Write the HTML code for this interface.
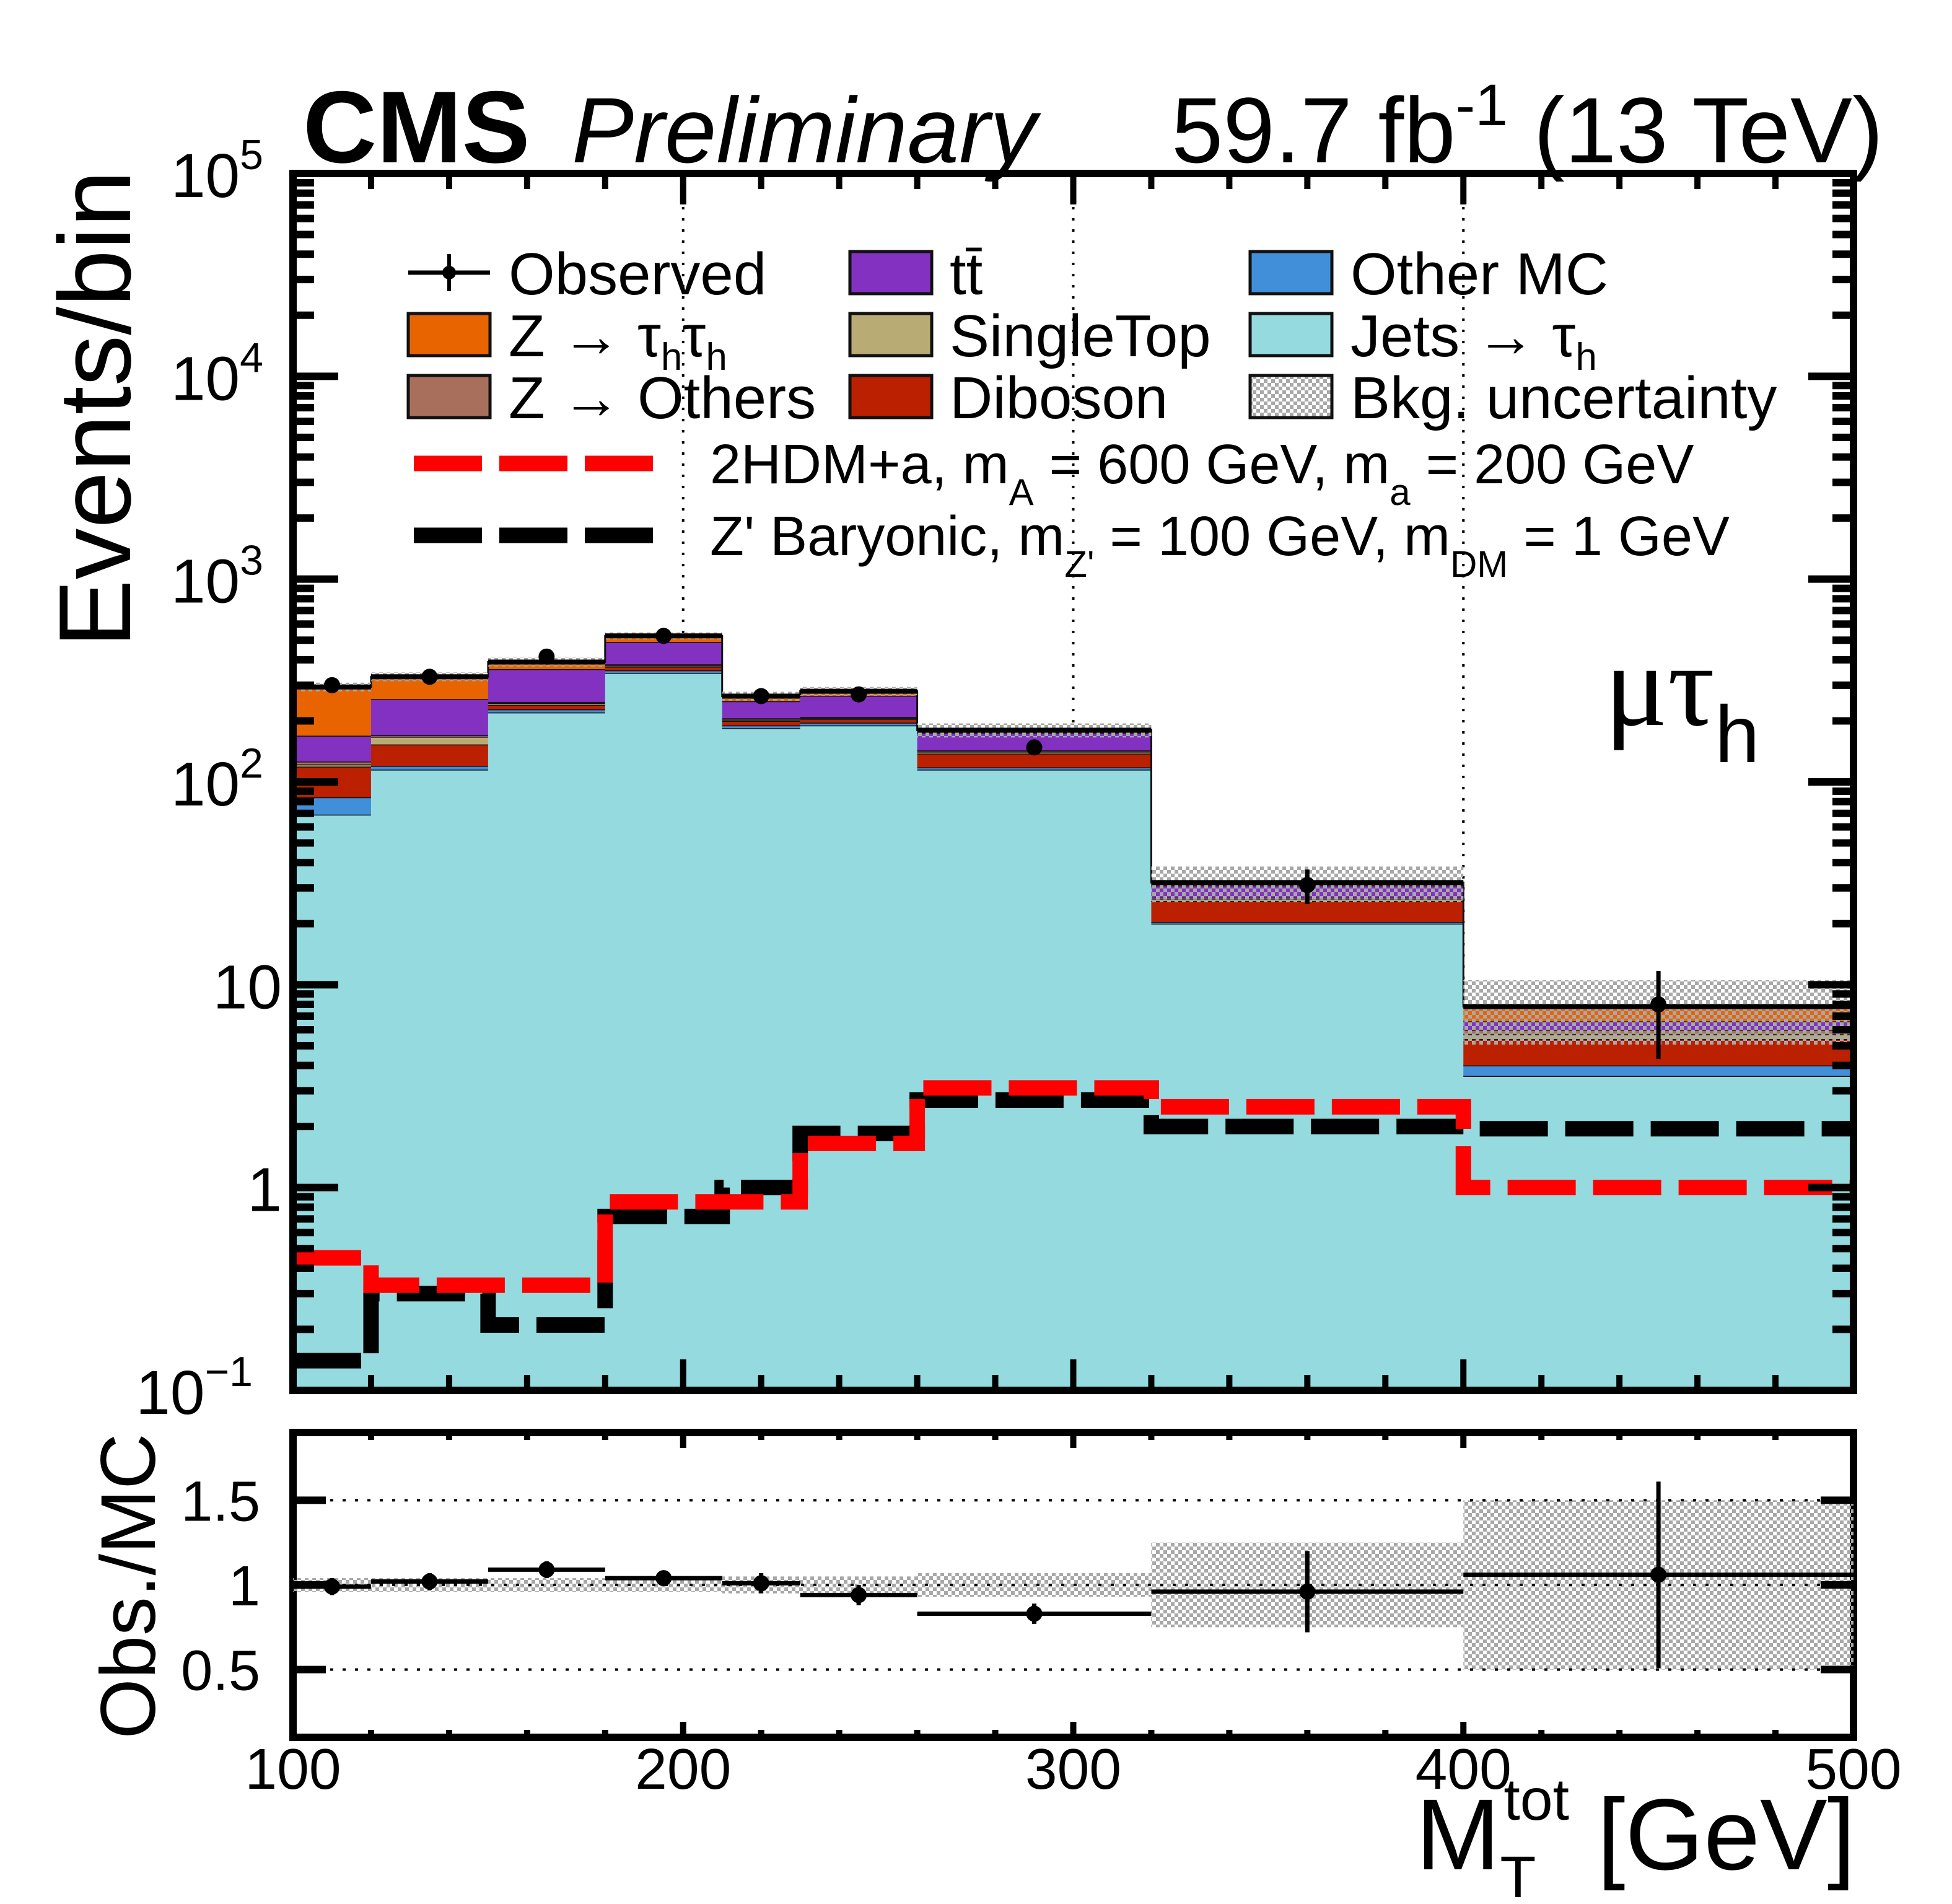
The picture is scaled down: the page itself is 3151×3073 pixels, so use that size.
<!DOCTYPE html>
<html><head><meta charset="utf-8"><style>
html,body{margin:0;padding:0;background:#fff;}
svg{display:block;font-family:"Liberation Sans",sans-serif;}
</style></head><body>
<svg id="chart" width="3151" height="3073" viewBox="0 0 3151 3073" xmlns="http://www.w3.org/2000/svg">
<defs>
<pattern id="hatch" width="12" height="12" patternUnits="userSpaceOnUse">
<rect x="0" y="0" width="6" height="6" fill="#a8a8a8"/><rect x="6" y="6" width="6" height="6" fill="#a8a8a8"/>
</pattern>
</defs>
<g id="main-plot"></g>
<g id="ratio-plot"></g>
<g id="legend"></g>
<text x="489" y="262" font-size="165" font-weight="bold">CMS</text>
<text x="923" y="262" font-size="150" font-style="italic">Preliminary</text>
<text x="3040" y="262" font-size="150" text-anchor="end">59.7 fb<tspan dy="-60" font-size="95">-1</tspan><tspan dy="60"> (13 TeV)</tspan></text>
<text x="2590" y="1170" font-size="190" font-family="'Liberation Serif',serif">μτ<tspan dy="60" font-size="130" font-family="'Liberation Sans',sans-serif">h</tspan></text>
<text transform="translate(210,660) rotate(-90)" font-size="165" text-anchor="middle">Events/bin</text>
<text transform="translate(250,2560) rotate(-90)" font-size="125" text-anchor="middle">Obs./MC</text>
<text x="2995" y="3017" font-size="163" text-anchor="end">M<tspan dy="45" font-size="95">T</tspan><tspan dx="-52" dy="-125" font-size="95">tot</tspan><tspan dy="80"> [GeV]</tspan></text>
</svg>
<script>
const edges=[100,120,150,180,210,230,260,320,400,500];
const jets=[69,115,220,345,184,190,115,20,3.55];
const otherMC=[15,5,8,10,6,6,3,0.4,0.45];
const diboson=[35,33,12,15,10,8,20,5.5,1.4];
const singleTop=[3,14,5,5,3,3,3,0.5,0.3];
const zOthers=[4,3,3,5,3,2,2,0.5,0.3];
const ttbar=[43,86,112,110,44,57,32,4,0.6];
const ztt=[125,74,30,35,15,14,5,1,1.2];
const mainUnc=[0.05,0.05,0.05,0.04,0.05,0.05,0.08,0.2,0.35];
const observed=[300,330,415,525,265,270,148,31,8];
const observedErr=[17,18,20,23,16,16,12,6,3.7];
const sig2hdm=[0.45,0.33,0.33,0.85,0.85,1.65,3.1,2.5,1.0];
const sigZp=[0.14,0.3,0.21,0.72,1.0,1.85,2.7,2.0,1.95];
const ratio=[0.99,1.02,1.09,1.04,1.01,0.94,0.83,0.96,1.06];
const ratioErr=[0.05,0.05,0.05,0.04,0.06,0.06,0.06,0.24,0.55];
const ratioUnc=[0.04,0.04,0.04,0.04,0.05,0.05,0.07,0.25,0.5];
const yDecades=[-1,0,1,2,3,4,5];
const xTicks=[100,200,300,400,500];
const ratioTicks=[0.5,1,1.5];

const NS="http://www.w3.org/2000/svg";
const X0=473,X1=2992,MT=280,MB=2244,RT=2312,RB=2804;
function xp(v){return X0+(v-100)/400*(X1-X0);}
function yp(v){return MB-(Math.log10(v)+1)/6*(MB-MT);}
function yr(v){return RB-(v-0.1)/1.8*(RB-RT);}
function mk(tag,attrs,parent){const e=document.createElementNS(NS,tag);for(const k in attrs)e.setAttribute(k,attrs[k]);parent.appendChild(e);return e;}
const main=document.getElementById('main-plot');
const rat=document.getElementById('ratio-plot');
const leg=document.getElementById('legend');

[200,300,400].forEach(v=>{
 const l=mk('line',{x1:xp(v),x2:xp(v),y1:MT,y2:MB,stroke:'#000','stroke-width':4,'stroke-dasharray':'4 14'},main);
 
 
});
const procs=[[jets,'#94dadf','jets-to-tau'],[otherMC,'#418fd8','other-mc'],[diboson,'#bb2000','diboson'],[singleTop,'#b9ab74','single-top'],[zOthers,'#a8705c','z-others'],[ttbar,'#8331c1','ttbar'],[ztt,'#e86400','z-tautau']];
const tot=[];
for(let i=0;i<9;i++){
 let cum=0.1;
 procs.forEach((p,j)=>{
  const lo=(j===0)?0.1:cum;
  const hi=(j===0)?p[0][i]:cum+p[0][i];
  cum=hi;
  const x1=xp(edges[i]),x2=xp(edges[i+1]);
  const r=mk('rect',{x:x1,y:yp(hi),width:x2-x1+0.5,height:yp(lo)-yp(hi),fill:p[1]},main);
  
  
  mk('line',{x1:x1,x2:x2,y1:yp(hi),y2:yp(hi),stroke:'#111','stroke-width':3},main);
 });
 tot.push(cum);
}
// jets outline (step) 
function stepPathV(vals){let d='';for(let i=0;i<9;i++){const y=yp(vals[i]);d+=(i===0?'M':'L')+xp(edges[i])+' '+y+' L'+xp(edges[i+1])+' '+y+' ';}return d;}
mk('path',{d:stepPathV(tot),fill:'none',stroke:'#111','stroke-width':3},main);
for(let i=0;i<9;i++){
 const hi=tot[i]*(1+mainUnc[i]),lo=tot[i]*(1-mainUnc[i]);
 const r=mk('rect',{x:xp(edges[i]),y:yp(hi),width:xp(edges[i+1])-xp(edges[i]),height:yp(lo)-yp(hi),fill:'url(#hatch)'},main);
 
 
 const t=mk('line',{x1:xp(edges[i]),x2:xp(edges[i+1]),y1:yp(tot[i]),y2:yp(tot[i]),stroke:'#000','stroke-width':8},main);
 
 
}
const sz=mk('path',{d:stepPathV(sigZp),fill:'none',stroke:'#000','stroke-width':25,'stroke-dasharray':'110 28'},main);


const s2=mk('path',{d:stepPathV(sig2hdm),fill:'none',stroke:'#ff0000','stroke-width':25,'stroke-dasharray':'110 28'},main);


for(let i=0;i<9;i++){
 const cx=xp((edges[i]+edges[i+1])/2),cy=yp(observed[i]);
 const g=mk('g',{},main);
 
 
 mk('line',{x1:cx,x2:cx,y1:yp(observed[i]+observedErr[i]),y2:yp(Math.max(observed[i]-observedErr[i],0.11)),stroke:'#000','stroke-width':7},g);
 mk('circle',{cx:cx,cy:cy,r:13,fill:'#000'},g);
}
function frame(parent,top,bot,name){
 const r=mk('rect',{x:X0,y:top,width:X1-X0,height:bot-top,fill:'none',stroke:'#000','stroke-width':12},parent);
 
 
}
frame(main,MT,MB,'main-frame');
for(let v=100;v<=500;v+=20){
 const L=(v%100===0)?50:25;
 mk('line',{x1:xp(v),x2:xp(v),y1:MB,y2:MB-L,stroke:'#000','stroke-width':10},main);
 mk('line',{x1:xp(v),x2:xp(v),y1:MT,y2:MT+L,stroke:'#000','stroke-width':10},main);
 const l2=(v%100===0)?25:12;
 mk('line',{x1:xp(v),x2:xp(v),y1:RB,y2:RB-l2,stroke:'#000','stroke-width':10},rat);
 mk('line',{x1:xp(v),x2:xp(v),y1:RT,y2:RT+l2,stroke:'#000','stroke-width':10},rat);
}
yDecades.forEach(d=>{
 const y=yp(Math.pow(10,d));
 mk('line',{x1:X0,x2:X0+73,y1:y,y2:y,stroke:'#000','stroke-width':12},main);
 mk('line',{x1:X1,x2:X1-73,y1:y,y2:y,stroke:'#000','stroke-width':12},main);
 if(d<5){for(let m=2;m<=9;m++){const ym=yp(m*Math.pow(10,d));
  mk('line',{x1:X0,x2:X0+34,y1:ym,y2:ym,stroke:'#000','stroke-width':12},main);
  mk('line',{x1:X1,x2:X1-34,y1:ym,y2:ym,stroke:'#000','stroke-width':12},main);}}
 const t=mk('text',{x:455,y:y+38,'font-size':100,'text-anchor':'end'},main);
 
 
 if(d===0){t.textContent='1';}
 else if(d===1){t.textContent='10';}
 else{t.setAttribute('x',d<0?408:425);t.textContent='10';
  const s=mk('tspan',{dy:-45,'font-size':68},t);s.textContent=(d<0?'−':'')+Math.abs(d);}
});
frame(rat,RT,RB,'ratio-frame');
for(let i=0;i<9;i++){
 const r=mk('rect',{x:xp(edges[i]),y:yr(1+ratioUnc[i]),width:xp(edges[i+1])-xp(edges[i]),height:yr(1-ratioUnc[i])-yr(1+ratioUnc[i]),fill:'url(#hatch)'},rat);
 
 
}
ratioTicks.forEach(v=>{
 const y=yr(v);
 mk('line',{x1:X0,x2:X1,y1:y,y2:y,stroke:'#000','stroke-width':4,'stroke-dasharray':'5 15'},rat);
 mk('line',{x1:X0,x2:X0+53,y1:y,y2:y,stroke:'#000','stroke-width':12},rat);
 mk('line',{x1:X1,x2:X1-53,y1:y,y2:y,stroke:'#000','stroke-width':12},rat);
 const t=mk('text',{x:420,y:y+33,'font-size':92,'text-anchor':'end'},rat);
 
 
 t.textContent=String(v);
});
for(let i=0;i<9;i++){
 const cx=xp((edges[i]+edges[i+1])/2),cy=yr(ratio[i]);
 const g=mk('g',{},rat);
 
 
 mk('line',{x1:xp(edges[i]),x2:xp(edges[i+1]),y1:cy,y2:cy,stroke:'#000','stroke-width':7},g);
 mk('line',{x1:cx,x2:cx,y1:yr(ratio[i]+ratioErr[i]),y2:yr(ratio[i]-ratioErr[i]),stroke:'#000','stroke-width':7},g);
 mk('circle',{cx:cx,cy:cy,r:13,fill:'#000'},g);
}
xTicks.forEach(v=>{
 const t=mk('text',{x:xp(v),y:2887,'font-size':93,'text-anchor':'middle'},rat);
 
 
 t.textContent=String(v);
});
const legBoxes=[[659,540,'#e86400','legend-z-tautau'],[659,640,'#a8705c','legend-z-others'],[1372,440,'#8331c1','legend-ttbar'],[1372,540,'#b9ab74','legend-single-top'],[1372,640,'#bb2000','legend-diboson'],[2018,440,'#418fd8','legend-other-mc'],[2018,540,'#94dadf','legend-jets'],[2018,640,'url(#hatch)','legend-bkg-unc']];
legBoxes.forEach(b=>{
 const r=mk('rect',{x:b[0],y:b[1]-34,width:132,height:68,fill:b[2],stroke:'#111','stroke-width':5},leg);
 
 
});
const og=mk('g',{},leg);


mk('line',{x1:659,x2:791,y1:440,y2:440,stroke:'#000','stroke-width':7},og);
mk('line',{x1:725,x2:725,y1:410,y2:470,stroke:'#000','stroke-width':6},og);
mk('circle',{cx:725,cy:440,r:11,fill:'#000'},og);
const ls1=mk('line',{x1:668,x2:1057,y1:748,y2:748,stroke:'#ff0000','stroke-width':25,'stroke-dasharray':'110 28'},leg);


const ls2=mk('line',{x1:668,x2:1057,y1:864,y2:864,stroke:'#000','stroke-width':25,'stroke-dasharray':'110 28'},leg);


const legTexts=[
 [821,475,'Observed',96],[821,575,'Z → τ<tspan dy="22" font-size="62">h</tspan><tspan dy="-22">τ</tspan><tspan dy="22" font-size="62">h</tspan>',96],[821,675,'Z → Others',96],
 [1533,475,'tt̄',96],[1533,575,'SingleTop',96],[1533,675,'Diboson',96],
 [2180,475,'Other MC',96],[2180,575,'Jets → τ<tspan dy="22" font-size="62">h</tspan>',96],[2180,675,'Bkg. uncertainty',96],
 [1146,780,'2HDM+a, m<tspan dy="35" font-size="60">A</tspan><tspan dy="-35"> = 600 GeV, m</tspan><tspan dy="35" font-size="60">a</tspan><tspan dy="-35"> = 200 GeV</tspan>',90],
 [1146,896,"Z' Baryonic, m<tspan dy=\"35\" font-size=\"60\">Z'</tspan><tspan dy=\"-35\"> = 100 GeV, m</tspan><tspan dy=\"35\" font-size=\"60\">DM</tspan><tspan dy=\"-35\"> = 1 GeV</tspan>",90]
];
legTexts.forEach((t,i)=>{
 const e=mk('text',{x:t[0],y:t[1],'font-size':t[3]},leg);
 
 
 e.innerHTML=t[2];
});
</script>
</body></html>
